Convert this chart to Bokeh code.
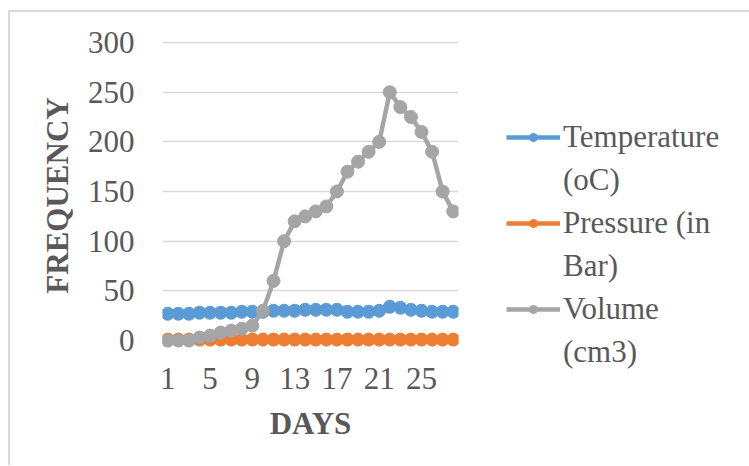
from bokeh.plotting import figure
from bokeh.models import (Range1d, FixedTicker, Legend, LegendItem, ColumnDataSource)
from bokeh.embed import file_html
from bokeh.resources import INLINE

days = list(range(1, 29))
temperature = [27, 27, 27, 28, 28, 28, 28, 29, 29, 29, 30, 30, 30, 31, 31, 31, 31,
               29, 29, 29, 30, 34, 33, 31, 30, 29, 29, 29]
pressure = [1] * 28
volume = [0, 0, 0, 3, 5, 8, 10, 12, 15, 30, 60, 100, 120, 125, 130, 135, 150, 170,
          180, 190, 200, 250, 235, 225, 210, 190, 150, 130]
x_ticks = [1, 5, 9, 13, 17, 21, 25]
y_ticks = [0, 50, 100, 150, 200, 250, 300]
series_first_lines = ["Temperature", "Pressure (in", "Volume"]
series_second_lines = ["(oC)", "Bar)", "(cm3)"]
colors = ["#5B9BD5", "#ED7D31", "#A5A5A5"]

FONT = "Liberation Serif"
TXT = "#595959"

p = figure(frame_width=296, frame_height=310, output_backend="svg", toolbar_location=None,
           x_range=Range1d(0.5, 28.5), y_range=Range1d(-10, 302),
           min_border_left=152, min_border_right=291, min_border_top=28,
           min_border_bottom=115)
p.styles = {"border-left": "2px solid #d9d9d9", "border-top": "2px solid #d9d9d9",
            "margin-top": "10px", "margin-left": "8px"}
p.outline_line_color = None
p.background_fill_color = "white"
p.border_fill_color = "white"

src = ColumnDataSource(dict(x=days, t=temperature, pr=pressure, v=volume))
renderers = []
for col, c in zip(["t", "pr", "v"], colors):
    l = p.line("x", col, source=src, line_color=c, line_width=4.5)
    s = p.scatter("x", col, source=src, size=13, fill_color=c, line_color=c, marker="circle")
    renderers.append([l, s])

# invisible renderer used only to carry the second line of each legend label
blank = p.scatter(x=[], y=[], fill_alpha=0, line_alpha=0)

p.xgrid.visible = False
p.ygrid.grid_line_color = "#d9d9d9"
p.ygrid.grid_line_width = 1.5
p.ygrid.ticker = FixedTicker(ticks=y_ticks)

p.xaxis.ticker = FixedTicker(ticks=x_ticks)
p.yaxis.ticker = FixedTicker(ticks=y_ticks)
for ax in (p.xaxis[0], p.yaxis[0]):
    ax.axis_line_color = None
    ax.major_tick_line_color = None
    ax.minor_tick_line_color = None
    ax.major_tick_out = 0
    ax.major_tick_in = 0
    ax.major_label_text_font = FONT
    ax.major_label_text_font_size = "31px"
    ax.major_label_text_color = TXT
    ax.axis_label_text_font = FONT
    ax.axis_label_text_font_size = "31px"
    ax.axis_label_text_font_style = "bold"
    ax.axis_label_text_color = TXT
p.xaxis.axis_label = "DAYS"
p.yaxis.axis_label = "FREQUENCY"
p.yaxis.major_label_standoff = 28
p.xaxis.major_label_standoff = 17
p.xaxis.axis_label_standoff = 14
p.yaxis.axis_label_standoff = 10

items = []
for first, second, r in zip(series_first_lines, series_second_lines, renderers):
    items.append(LegendItem(label=first, renderers=r))
    items.append(LegendItem(label=second, renderers=[blank]))
legend = Legend(items=items, location=(48, -20), orientation="vertical",
                label_text_font=FONT, label_text_font_size="31px", label_text_color=TXT,
                glyph_width=54, glyph_height=20, label_height=20, label_standoff=3,
                spacing=7, padding=0, margin=0, border_line_color=None,
                background_fill_alpha=0)
p.add_layout(legend, "right")

open("out.html", "w").write(file_html(p, INLINE))
